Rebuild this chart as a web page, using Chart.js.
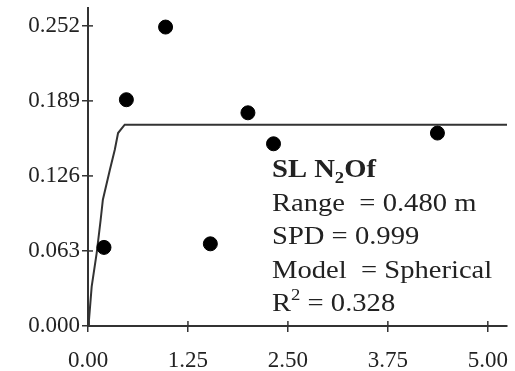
<!DOCTYPE html>
<html>
<head>
<meta charset="utf-8">
<script src="https://cdn.jsdelivr.net/npm/chart.js@4"></script>
<style>
  html, body { margin: 0; padding: 0; background: #fff; }
  #wrap { width: 515px; height: 371px; }
</style>
</head>
<body>
<div id="wrap"><canvas id="semivariogram"></canvas></div>
<script>
"use strict";

// observed semivariance (lag distance, gamma)
const lagX = [0.20, 0.48, 0.97, 1.53, 2.00, 2.32, 4.37];
const gammaY = [0.066, 0.190, 0.251, 0.069, 0.179, 0.153, 0.162];

// fitted spherical model
const modelX = [0, 0.012, 0.046, 0.108, 0.158, 0.186, 0.273, 0.335, 0.376, 0.459, 5.24];
const modelY = [0.001, 0.005, 0.033, 0.061, 0.089, 0.106, 0.131, 0.148, 0.162, 0.169, 0.169];

const xTicks = [0, 1.25, 2.5, 3.75, 5];
const yTicks = [0, 0.063, 0.126, 0.189, 0.252];

const fontFamily = "'Liberation Serif', 'Times New Roman', serif";
const ink = "#222";

const points = lagX.map((x, i) => ({ x: x, y: gammaY[i] }));
const model = modelX.map((x, i) => ({ x: x, y: modelY[i] }));

// ticks that cross the axis lines, like the original plot
const crossTicks = {
  id: "crossTicks",
  afterDatasetsDraw(chart) {
    const c = chart.ctx;
    const xs = chart.scales.x;
    const ys = chart.scales.y;
    c.save();
    c.strokeStyle = "#333";
    c.lineWidth = 1.5;
    xTicks.forEach((t) => {
      const px = xs.getPixelForValue(t);
      c.beginPath();
      c.moveTo(px, ys.bottom - 5);
      c.lineTo(px, ys.bottom);
      c.stroke();
    });
    yTicks.forEach((t) => {
      const py = ys.getPixelForValue(t);
      c.beginPath();
      c.moveTo(xs.left, py);
      c.lineTo(xs.left + 5, py);
      c.stroke();
    });
    c.restore();
  },
};

// text block with the model summary (the original type is a little wide)
const summaryText = {
  id: "summaryText",
  afterDraw(chart) {
    const c = chart.ctx;
    c.save();
    c.translate(272, 0);
    c.scale(1.1, 1);
    c.fillStyle = ink;
    c.textBaseline = "alphabetic";
    c.textAlign = "left";

    c.font = "bold 26px " + fontFamily;
    let x = 0;
    c.fillText("SL N", x, 177);
    x += c.measureText("SL N").width;
    c.font = "bold 17px " + fontFamily;
    c.fillText("2", x, 183);
    x += c.measureText("2").width;
    c.font = "bold 26px " + fontFamily;
    c.fillText("Of", x, 177);

    c.font = "26px " + fontFamily;
    c.fillText("Range  = 0.480 m", 0, 211);
    c.fillText("SPD = 0.999", 0, 244);
    c.fillText("Model  = Spherical", 0, 278);

    x = 0;
    c.fillText("R", x, 311);
    x += c.measureText("R").width;
    c.font = "17px " + fontFamily;
    c.fillText("2", x, 300);
    x += c.measureText("2").width;
    c.font = "26px " + fontFamily;
    c.fillText(" = 0.328", x, 311);
    c.restore();
  },
};

new Chart(document.getElementById("semivariogram"), {
  type: "scatter",
  data: {
    datasets: [
      {
        label: "Observed",
        data: points,
        pointRadius: 7,
        pointHoverRadius: 7,
        pointBackgroundColor: "#000",
        pointBorderColor: "#000",
        showLine: false,
      },
      {
        label: "Spherical model",
        data: model,
        showLine: true,
        borderColor: "#333",
        borderWidth: 2,
        pointRadius: 0,
        tension: 0,
        fill: false,
      },
    ],
  },
  options: {
    responsive: true,
    maintainAspectRatio: false,
    animation: false,
    events: [],
    layout: { padding: { top: 8, right: 5, left: 0, bottom: 0 } },
    plugins: {
      legend: { display: false },
      tooltip: { enabled: false },
    },
    scales: {
      x: {
        type: "linear",
        min: 0,
        max: 5.24,
        afterBuildTicks: (s) => {
          s.ticks = xTicks.map((v) => ({ value: v }));
        },
        afterFit: (s) => {
          s.height = 45;
          s.paddingLeft = 0;
          s.paddingRight = 0;
        },
        ticks: {
          color: ink,
          font: { family: fontFamily, size: 23 },
          padding: 15,
          maxRotation: 0,
          callback: (v) => Number(v).toFixed(2),
        },
        grid: {
          drawOnChartArea: false,
          drawTicks: true,
          tickLength: 6,
          color: "#333",
          lineWidth: 1.5,
        },
        border: { display: true, color: "#333", width: 2 },
      },
      y: {
        type: "linear",
        min: 0,
        max: 0.267,
        afterBuildTicks: (s) => {
          s.ticks = yTicks.map((v) => ({ value: v }));
        },
        afterFit: (s) => {
          s.width = 88;
          s.paddingTop = 0;
          s.paddingBottom = 0;
        },
        ticks: {
          color: ink,
          font: { family: fontFamily, size: 23 },
          padding: 2,
          callback: (v) => Number(v).toFixed(3),
        },
        grid: {
          drawOnChartArea: false,
          drawTicks: true,
          tickLength: 6,
          color: "#333",
          lineWidth: 1.5,
        },
        border: { display: true, color: "#333", width: 2 },
      },
    },
  },
  plugins: [crossTicks, summaryText],
});
</script>
</body>
</html>
